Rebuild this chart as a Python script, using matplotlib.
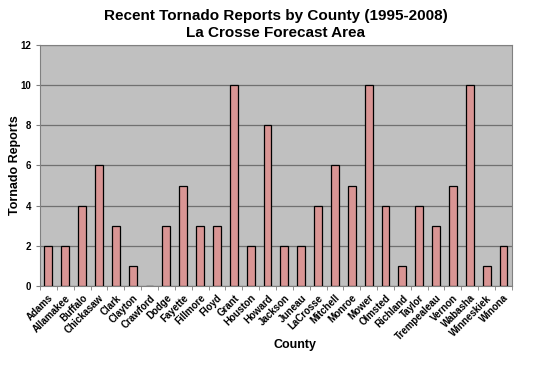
import matplotlib
matplotlib.use("Agg")
import matplotlib.pyplot as plt
import numpy as np

plt.rcParams['font.family'] = ['Liberation Sans', 'DejaVu Sans']

counties = ["Adams", "Allamakee", "Buffalo", "Chickasaw", "Clark", "Clayton",
            "Crawford", "Dodge", "Fayette", "Fillmore", "Floyd", "Grant",
            "Houston", "Howard", "Jackson", "Juneau", "LaCrosse", "Mitchell",
            "Monroe", "Mower", "Olmsted", "Richland", "Taylor", "Trempealeau",
            "Vernon", "Wabasha", "Winneskiek", "Winona"]
reports = [2, 2, 4, 6, 3, 1, 0, 3, 5, 3, 3, 10, 2, 8, 2, 2, 4, 6, 5, 10,
           4, 1, 4, 3, 5, 10, 1, 2]

fig = plt.figure(figsize=(5.4, 3.68), dpi=100)
ax = fig.add_axes([0.074, 0.223, 0.874, 0.655])
ax.set_facecolor('#C0C0C0')

x = np.arange(len(counties))
ax.bar(x, reports, width=0.47, color='#D99594', edgecolor='black',
       linewidth=0.9, zorder=3)

ax.set_xlim(-0.5, len(counties) - 0.5)
ax.set_ylim(0, 12)
ax.set_yticks(range(0, 13, 2))
ax.yaxis.grid(True, color='#707070', linewidth=0.9, zorder=0)
ax.tick_params(axis='y', labelsize=7, length=3, color='#808080')
for lab in ax.get_yticklabels():
    lab.set_fontweight('bold')

ax.set_xticks(x)
ax.set_xticklabels(counties, rotation=45, ha='right', rotation_mode='anchor',
                   fontsize=7, fontweight='bold')
ax.set_xticks(np.arange(-0.5, len(counties)), minor=True)
ax.tick_params(axis='x', which='major', length=0, pad=5)
ax.tick_params(axis='x', which='minor', length=3, color='#808080')

for side in ['top', 'right', 'left', 'bottom']:
    ax.spines[side].set_color('#808080')

ax.set_ylabel('Tornado Reports', fontsize=9, fontweight='bold')
ax.yaxis.set_label_coords(-0.04, 0.5)
ax.set_xlabel('County', fontsize=9, fontweight='bold')
ax.xaxis.set_label_coords(0.54, -0.22)
ax.set_title('Recent Tornado Reports by County (1995-2008)\nLa Crosse Forecast Area',
             fontsize=11, fontweight='bold', pad=6, x=0.5)

fig.savefig('out.png', dpi=100)
